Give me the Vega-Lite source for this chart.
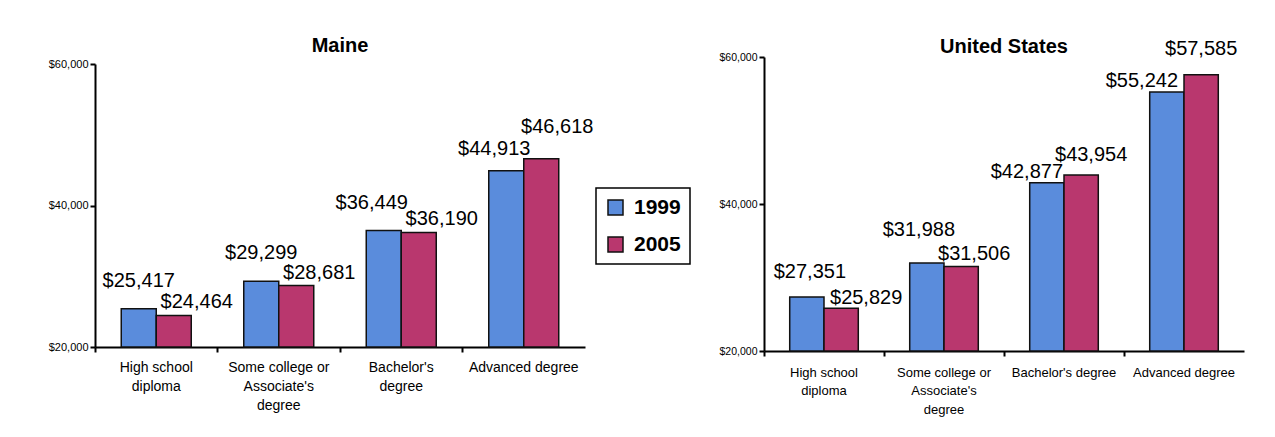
{
  "$schema": "https://vega.github.io/schema/vega-lite/v6.json",
  "background": "white",
  "padding": {"left": 48, "top": 36, "right": 5, "bottom": 5},
  "autosize": {"type": "pad"},
  "datasets": {
    "maine": [
      {"category": "High school diploma", "year": "1999", "income": 25417},
      {"category": "High school diploma", "year": "2005", "income": 24464},
      {"category": "Some college or Associate's degree", "year": "1999", "income": 29299},
      {"category": "Some college or Associate's degree", "year": "2005", "income": 28681},
      {"category": "Bachelor's degree", "year": "1999", "income": 36449},
      {"category": "Bachelor's degree", "year": "2005", "income": 36190},
      {"category": "Advanced degree", "year": "1999", "income": 44913},
      {"category": "Advanced degree", "year": "2005", "income": 46618}
    ],
    "us": [
      {"category": "High school diploma", "year": "1999", "income": 27351},
      {"category": "High school diploma", "year": "2005", "income": 25829},
      {"category": "Some college or Associate's degree", "year": "1999", "income": 31988},
      {"category": "Some college or Associate's degree", "year": "2005", "income": 31506},
      {"category": "Bachelor's degree", "year": "1999", "income": 42877},
      {"category": "Bachelor's degree", "year": "2005", "income": 43954},
      {"category": "Advanced degree", "year": "1999", "income": 55242},
      {"category": "Advanced degree", "year": "2005", "income": 57585}
    ]
  },
  "config": {
    "font": "Liberation Sans",
    "view": {"stroke": null},
    "axis": {
      "domainColor": "black", "domainWidth": 2, "tickColor": "black", "tickWidth": 2,
      "tickSize": 5, "labelColor": "black", "grid": false, "title": null, "labelFont": "Liberation Sans"
    },
    "legend": {"strokeWidth": 1.5},
    "concat": {"spacing": 28}
  },
  "resolve": {
    "scale": {"x": "independent", "y": "independent", "xOffset": "independent"},
    "legend": {"color": "independent"}
  },
  "hconcat": [
    {
      "title": {"text": "Maine", "fontSize": 20, "fontWeight": "bold", "offset": 1, "anchor": "middle", "frame": "group", "color": "black", "font": "Liberation Sans"},
      "width": 490,
      "height": 290,
      "data": {"name": "maine"},
      "encoding": {
        "x": {
          "field": "category", "type": "nominal", "sort": null,
          "scale": {"paddingInner": 0, "paddingOuter": 0},
          "axis": {
            "labelAngle": 0, "labelFontSize": 14, "labelPadding": 8, "labelLineHeight": 19,
            "bandPosition": 0,
            "labelExpr": "datum.value == 'High school diploma' ? ['High school', 'diploma'] : indexof(datum.value, 'Some') == 0 ? ['Some college or', \"Associate's\", 'degree'] : indexof(datum.value, 'Bach') == 0 ? [\"Bachelor's\", 'degree'] : datum.value"
          }
        },
        "xOffset": {"field": "year", "type": "nominal", "scale": {"paddingInner": 0, "paddingOuter": 0.75}},
        "y": {
          "field": "income", "type": "quantitative",
          "scale": {"domain": [20000, 60000], "nice": false, "zero": false, "range": [290, 7]},
          "axis": {"values": [20000, 40000, 60000], "format": "$,.0f", "labelFontSize": 11, "labelPadding": 2}
        }
      },
      "layer": [
        {
          "mark": {"type": "bar", "stroke": "#111", "strokeWidth": 1.5},
          "encoding": {
            "y2": {"datum": 20000},
            "color": {
              "field": "year", "type": "nominal",
              "scale": {"domain": ["1999", "2005"], "range": ["#5a8cdc", "#b9376e"]},
              "legend": {
                "title": null, "orient": "none", "legendX": 501, "legendY": 131,
                "strokeColor": "black", "padding": 9,
                "labelFontSize": 21, "labelFontWeight": "bold", "labelColor": "black", "labelFont": "Liberation Sans",
                "symbolType": "square", "symbolSize": 225, "symbolStrokeColor": "#111", "symbolStrokeWidth": 1.5,
                "symbolOpacity": 1, "rowPadding": 15, "labelOffset": 8
              }
            }
          }
        },
        {
          "mark": {
            "type": "text", "fontSize": 20, "baseline": "alphabetic", "color": "black", "font": "Liberation Sans",
            "dx": {"expr": "datum.year == '1999' ? (datum.category == 'High school diploma' || indexof(datum.category, 'Some') == 0 ? 0 : -12) : (datum.category == 'Advanced degree' ? 16 : 23)"},
            "dy": {"expr": "datum.year == '1999' ? (datum.category == 'Advanced degree' ? -16 : -22) : (datum.category == 'Advanced degree' ? -26 : -7)"}
          },
          "encoding": {"text": {"field": "income", "type": "quantitative", "format": "$,.0f"}}
        }
      ]
    },
    {
      "title": {"text": "United States", "fontSize": 20, "fontWeight": "bold", "offset": -18, "anchor": "middle", "frame": "group", "color": "black", "font": "Liberation Sans"},
      "width": 480,
      "height": 294,
      "data": {"name": "us"},
      "encoding": {
        "x": {
          "field": "category", "type": "nominal", "sort": null,
          "scale": {"paddingInner": 0, "paddingOuter": 0},
          "axis": {
            "labelAngle": 0, "labelFontSize": 13, "labelPadding": 10, "labelLineHeight": 18.5,
            "bandPosition": 0,
            "labelExpr": "datum.value == 'High school diploma' ? ['High school', 'diploma'] : indexof(datum.value, 'Some') == 0 ? ['Some college or', \"Associate's\", 'degree'] : datum.value"
          }
        },
        "xOffset": {"field": "year", "type": "nominal", "scale": {"paddingInner": 0, "paddingOuter": 0.75}},
        "y": {
          "field": "income", "type": "quantitative",
          "scale": {"domain": [20000, 60000], "nice": false, "zero": false},
          "axis": {"values": [20000, 40000, 60000], "format": "$,.0f", "labelFontSize": 10.5, "labelPadding": 2}
        }
      },
      "layer": [
        {
          "mark": {"type": "bar", "stroke": "#111", "strokeWidth": 1.5},
          "encoding": {
            "y2": {"datum": 20000},
            "color": {
              "field": "year", "type": "nominal",
              "scale": {"domain": ["1999", "2005"], "range": ["#5a8cdc", "#b9376e"]},
              "legend": null
            }
          }
        },
        {
          "mark": {
            "type": "text", "fontSize": 20, "baseline": "alphabetic", "color": "black", "font": "Liberation Sans",
            "dx": {"expr": "datum.year == '1999' ? (datum.category == 'High school diploma' ? 3 : indexof(datum.category, 'Some') == 0 ? -8 : indexof(datum.category, 'Bach') == 0 ? -20 : -25) : (datum.category == 'High school diploma' ? 25 : indexof(datum.category, 'Some') == 0 ? 13 : indexof(datum.category, 'Bach') == 0 ? 10 : 0)"},
            "dy": {"expr": "datum.year == '1999' ? (datum.category == 'High school diploma' ? -19 : indexof(datum.category, 'Some') == 0 ? -27 : -5) : (datum.category == 'High school diploma' ? -4 : indexof(datum.category, 'Some') == 0 ? -6 : indexof(datum.category, 'Bach') == 0 ? -14 : -20)"}
          },
          "encoding": {"text": {"field": "income", "type": "quantitative", "format": "$,.0f"}}
        }
      ]
    }
  ]
}
